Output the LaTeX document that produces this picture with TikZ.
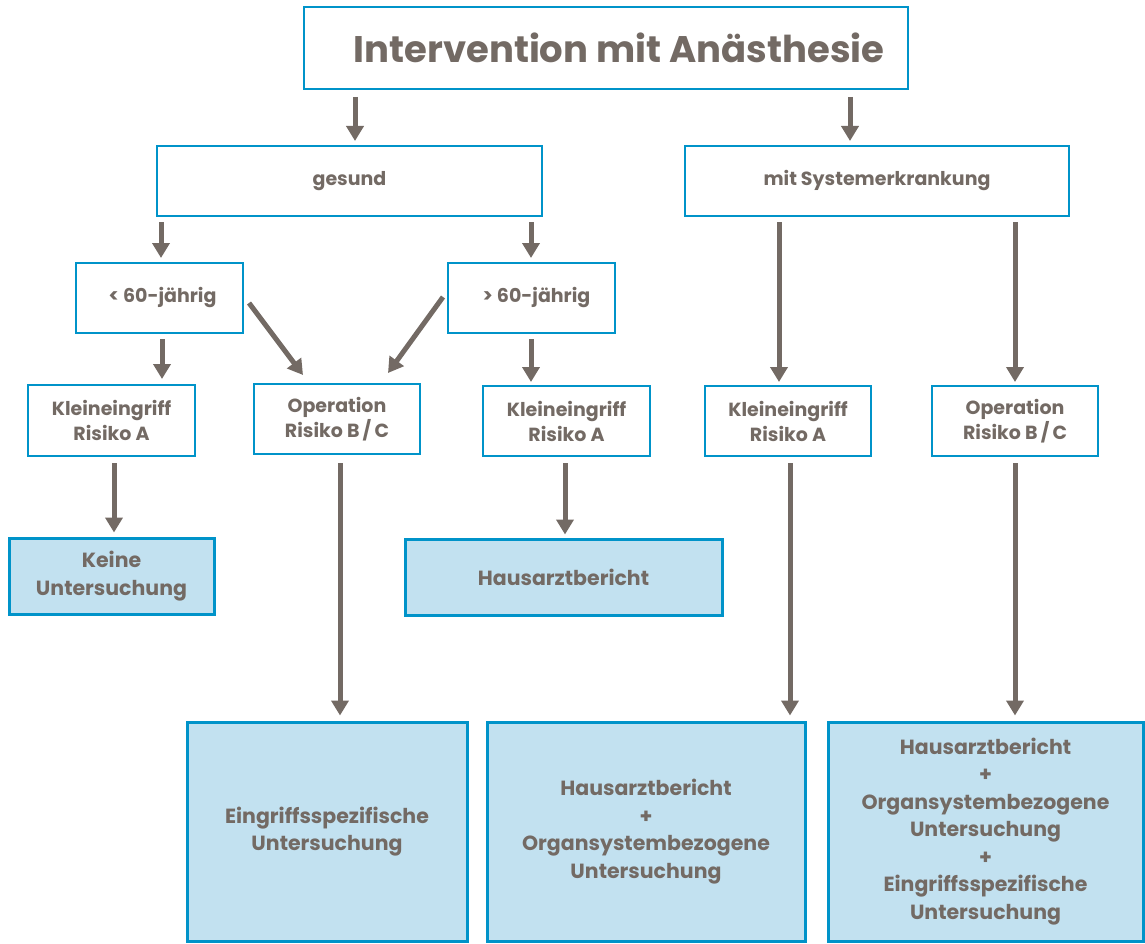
\documentclass[tikz,border=0pt]{standalone}
\usepackage{fontspec}
\setmainfont{Poppins}
\usetikzlibrary{arrows.meta}
\definecolor{txt}{HTML}{736A64}
\definecolor{bl}{HTML}{0093C9}
\definecolor{fillb}{HTML}{C2E1F0}
\begin{document}
\begin{tikzpicture}[x=1pt,y=-1pt,
  box/.style={draw=bl, line width=2pt, fill=white, inner sep=0pt, align=center, text=txt, font=\bfseries\fontsize{19}{25}\selectfont},
  res/.style={box, fill=fillb, line width=3pt, font=\bfseries\fontsize{20.5}{27.5}\selectfont},
  arr/.style={draw=txt, line width=5pt, -{Triangle[width=17pt,length=15pt]}}]
\useasboundingbox (0,0) rectangle (1145,944);
\node[box, minimum width=604pt, minimum height=82pt, font=\bfseries\fontsize{37}{40}\selectfont] (title) at (606,48) {\hspace*{26pt}Intervention mit Anästhesie};
\node[box, minimum width=385pt, minimum height=70pt] (gesund) at (349.5,181) {gesund};
\node[box, minimum width=384pt, minimum height=70pt] (mit) at (877,181) {mit Systemerkrankung};
\node[box, minimum width=167pt, minimum height=70pt] (lt) at (159.5,298) {\hspace*{6pt}< 60-jährig};
\node[box, minimum width=167pt, minimum height=70pt] (gt) at (531.5,298) {\hspace*{10pt}> 60-jährig};
\node[box, minimum width=167pt, minimum height=71pt] (k1) at (111.5,420.5) {Kleineingriff\\Risiko A};
\node[box, minimum width=166pt, minimum height=70pt] (op1) at (337,419) {Operation\\Risiko B\,/\,C};
\node[box, minimum width=167pt, minimum height=70pt] (k2) at (566.5,421) {Kleineingriff\\Risiko A};
\node[box, minimum width=166pt, minimum height=70pt] (k3) at (788,421) {Kleineingriff\\Risiko A};
\node[box, minimum width=166pt, minimum height=70pt] (op2) at (1015,421) {Operation\\Risiko B\,/\,C};
\node[res, minimum width=205pt, minimum height=76pt] (keine) at (111.5,576) {Keine\\Untersuchung};
\node[res, minimum width=317pt, minimum height=76pt] (haus) at (563.5,577) {Hausarztbericht};
\node[res, minimum width=280pt, minimum height=219pt] (ein) at (327,831.5) {Eingriffsspezifische\\Untersuchung};
\node[res, minimum width=318pt, minimum height=219pt] (ho) at (646,831.5) {Hausarztbericht\\+\\Organsystembezogene\\Untersuchung};
\node[res, minimum width=315pt, minimum height=219pt] (all) at (985.5,831.5) {Hausarztbericht\\+\\Organsystembezogene\\Untersuchung\\+\\Eingriffsspezifische\\Untersuchung};
\draw[arr, shorten <=7pt, shorten >=4pt] ([xshift=-251pt]title.south) -- ([xshift=5.5pt]gesund.north);
\draw[arr, shorten <=7pt, shorten >=4pt] ([xshift=244pt]title.south) -- ([xshift=-27pt]mit.north);
\draw[arr, shorten <=5pt, shorten >=4pt] ([xshift=-188.5pt]gesund.south) -- ([xshift=1.5pt]lt.north);
\draw[arr, shorten <=5pt, shorten >=4pt] ([xshift=181.5pt]gesund.south) -- ([xshift=-0.5pt]gt.north);
\draw[arr, shorten <=5pt, shorten >=5pt] ([xshift=2.5pt]lt.south) -- ([xshift=50.5pt]k1.north);
\draw[arr] ([shift={(5,5)}]lt.east) -- ([shift={(-34,-8)}]op1.north);
\draw[arr] ([shift={(-4,-1)}]gt.west) -- ([shift={(51,-10)}]op1.north);
\draw[arr, shorten <=5pt, shorten >=3pt] ([xshift=-0.5pt]gt.south) -- ([xshift=-35.5pt]k2.north);
\draw[arr, shorten <=5pt, shorten >=3pt] ([xshift=-98pt]mit.south) -- ([xshift=-9pt]k3.north);
\draw[arr, shorten <=5pt, shorten >=3pt] ([xshift=138pt]mit.south) -- (op2.north);
\draw[arr, shorten <=6pt, shorten >=4pt] ([xshift=2.5pt]k1.south) -- ([xshift=2.5pt]keine.north);
\draw[arr, shorten <=8pt, shorten >=5pt] ([xshift=3pt]op1.south) -- ([xshift=13pt]ein.north);
\draw[arr, shorten <=6pt, shorten >=3pt] ([xshift=-1.5pt]k2.south) -- ([xshift=1.5pt]haus.north);
\draw[arr, shorten <=6pt, shorten >=5pt] ([xshift=2pt]k3.south) -- ([xshift=144pt]ho.north);
\draw[arr, shorten <=6pt, shorten >=5pt] (op2.south) -- ([xshift=29.5pt]all.north);
\end{tikzpicture}
\end{document}
